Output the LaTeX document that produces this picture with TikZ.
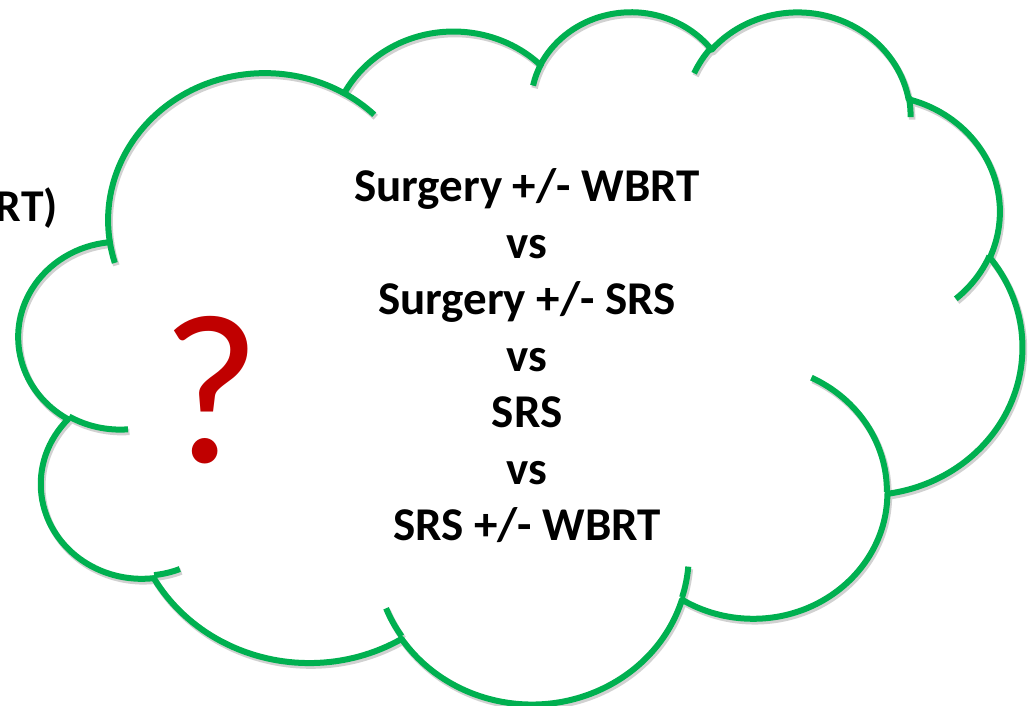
\documentclass[tikz,border=0pt]{standalone}
\usepackage{fontspec}
\setmainfont{Carlito}
\definecolor{cgreen}{HTML}{00B050}
\definecolor{qred}{HTML}{C00000}
% point in cloud units (thousandths of 43200 box) -> picture px
\newcommand\cp[2]{({19+#1*23.2176},{696-#2*16.0185})}
% elliptical arc from visual start angle and sweep (y down convention)
\newcommand\defarc[5]{%
  \pgfmathsetmacro\cloudtA{atan2(#2*sin(#4),#3*cos(#4))}%
  \pgfmathsetmacro\cloudtB{atan2(#2*sin(#4+#5),#3*cos(#4+#5))}%
  \pgfmathsetmacro\cloudtD{mod(\cloudtB-\cloudtA+720,360)}%
  \pgfmathsetmacro\cloudsA{-1*(\cloudtA)}%
  \pgfmathsetmacro\cloudsB{-1*(\cloudtA)-\cloudtD}%
  \pgfmathsetmacro\cloudrx{#2*23.2176}%
  \pgfmathsetmacro\cloudry{#3*16.0185}%
  \edef#1{arc[start angle=\cloudsA, end angle=\cloudsB, x radius=\cloudrx pt, y radius=\cloudry pt]}%
}
\defarc\ArcA{6.753}{9.190}{-190.4875}{123.7805}
\defarc\ArcB{5.333}{7.267}{-144.1024}{89.9452}
\defarc\ArcC{4.365}{5.945}{-145.8079}{99.7230}
\defarc\ArcD{4.857}{6.595}{-130.9861}{117.2417}
\defarc\ArcE{5.333}{7.273}{-78.7089}{109.0269}
\defarc\ArcF{6.775}{9.220}{-46.2673}{130.2690}
\defarc\ArcG{5.785}{7.867}{0.6250}{114.0333}
\defarc\ArcH{6.752}{9.215}{22.4516}{115.1726}
\defarc\ArcI{7.720}{10.543}{66.2426}{75.7110}
\defarc\ArcJ{4.360}{5.918}{-274.9421}{146.7356}
\defarc\ArcL{4.345}{5.945}{-246.8285}{152.5189}
\defarc\TailA{4.345}{5.945}{86.7420}{26.4295}
\defarc\TailB{4.360}{5.918}{73.6105}{11.4475}
\defarc\TailC{6.752}{9.215}{137.6242}{14.0811}
\defarc\TailD{6.752}{9.215}{6.4533}{15.9984}
\defarc\TailE{5.785}{7.867}{-70.2924}{70.9174}
\defarc\TailF{5.333}{7.273}{30.3180}{27.7515}
\defarc\TailG{4.857}{6.595}{-13.7443}{14.8589}
\defarc\TailH{4.857}{6.595}{-149.1815}{18.1954}
\defarc\TailI{4.365}{5.945}{-163.4943}{17.6864}
\defarc\TailJ{6.753}{9.190}{-66.7070}{12.3194}
\defarc\TailK{6.753}{9.190}{157.6544}{11.8582}
\newcommand\cloudshape[1]{%
  \draw[#1] \cp{3.900}{14.370} \ArcA \ArcB \ArcC \ArcD \ArcE \ArcF \ArcG \ArcH \ArcI \ArcJ \ArcL -- cycle;
  \draw[#1] \cp{4.693}{26.177} \TailA;
  \draw[#1] \cp{6.928}{34.899} \TailB;
  \draw[#1] \cp{16.478}{39.090} \TailC;
  \draw[#1] \cp{28.827}{34.751} \TailD;
  \draw[#1] \cp{34.129}{22.954} \TailE;
  \draw[#1] \cp{41.798}{15.354} \TailF;
  \draw[#1] \cp{38.324}{5.426} \TailG;
  \draw[#1] \cp{29.078}{3.952} \TailH;
  \draw[#1] \cp{22.141}{4.720} \TailI;
  \draw[#1] \cp{14.000}{5.192} \TailJ;
  \draw[#1] \cp{4.127}{15.789} \TailK;
}
\tikzset{
  cloudline/.style={draw=cgreen, line width=6pt, line join=round},
  cloudshadow/.style={draw=black!18, line width=6.5pt, line join=round},
  txt/.style={font=\bfseries\fontsize{47}{47}\selectfont, text=black, inner sep=0pt, anchor=base},
}
\begin{document}
\begin{tikzpicture}[x=1pt,y=1pt]
\fill[white] (0,0) rectangle (1034,706);
\useasboundingbox (0,0) rectangle (1034,706);
\begin{scope}[shift={(1.5,-2.5)}]
  \cloudshape{cloudshadow}
\end{scope}
\cloudshape{cloudline}
\node[txt] (l1) at (527,504) {Surgery +/- WBRT};
\node[txt] (l2) at (527,447.5) {vs};
\node[txt] (l3) at (527,391) {Surgery +/- SRS};
\node[txt] (l4) at (527,334.5) {vs};
\node[txt] (l5) at (527,278) {SRS};
\node[txt] (l6) at (527,221.5) {vs};
\node[txt] (l7) at (527,165) {SRS +/- WBRT};
\node[txt, anchor=base east, font=\bfseries\fontsize{45.5}{45.5}\selectfont] (rt) at (58,484) {RT)};
\node[inner sep=0pt, anchor=base, text=qred, font=\fontsize{214}{214}\selectfont] (q) at (211,243) {?};
\end{tikzpicture}
\end{document}
